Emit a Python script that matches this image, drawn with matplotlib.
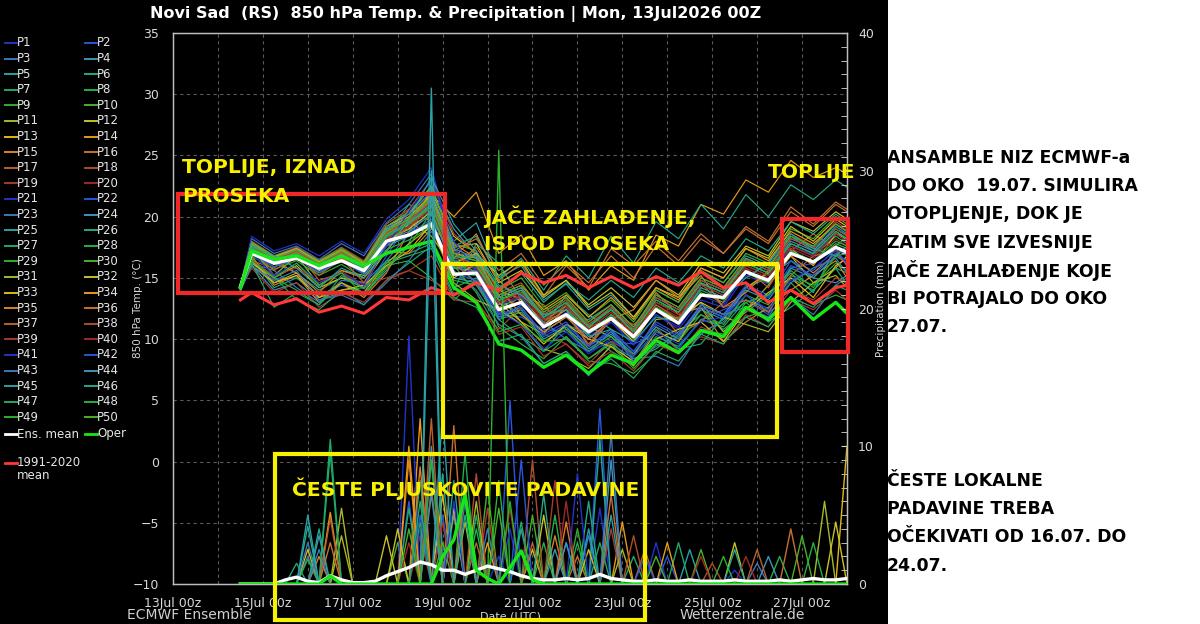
import numpy as np
import pandas as pd
import matplotlib
matplotlib.use("Agg")
import matplotlib.pyplot as plt
import matplotlib.dates as mdates
from matplotlib.lines import Line2D
from matplotlib.patches import Rectangle
from matplotlib.ticker import MultipleLocator, FixedLocator

# ---------------- data ----------------
title = "Novi Sad  (RS)  850 hPa Temp. & Precipitation | Mon, 13Jul2026 00Z"
member_names = [f"P{i}" for i in range(1, 51)]

# temperature times: 14Jul 12z, then 06z/18z steps, ending 28Jul 00z
temp_times = (["2026-07-14 12:00"]
              + [t.strftime("%Y-%m-%d %H:%M") for t in pd.date_range("2026-07-14 18:00", periods=27, freq="12h")]
              + ["2026-07-28 00:00"])
precip_times = [t.strftime("%Y-%m-%d %H:%M") for t in pd.date_range("2026-07-14 12:00", "2026-07-28 00:00", freq="6h")]

ens_mean_temp = [14.3, 17.0, 16.2, 16.6, 15.8, 16.4, 15.6, 18.0, 18.5, 19.4, 15.3, 15.4, 12.4, 13.0, 11.0,
                 12.0, 10.6, 11.7, 10.2, 12.4, 11.3, 13.6, 13.4, 15.5, 14.8, 17.0, 16.3, 17.5, 17.1]
oper_temp = [14.2, 17.2, 16.5, 16.8, 16.0, 16.8, 16.0, 17.0, 17.5, 18.0, 14.2, 13.0, 9.6, 9.1, 7.7,
             8.7, 7.2, 8.7, 8.0, 9.9, 8.9, 10.7, 10.2, 12.6, 11.6, 13.4, 11.6, 13.0, 12.1]
clim_temp = [13.2, 13.8, 12.8, 13.3, 12.2, 12.7, 12.1, 13.4, 13.2, 14.2, 13.6, 14.6, 14.0, 15.4, 14.6,
             15.2, 14.2, 15.1, 14.2, 15.1, 14.4, 15.5, 14.2, 14.6, 13.0, 14.0, 12.9, 14.2, 14.4]

member_temp = [
    [14.3, 17.8, 16.6, 17.4, 16.0, 17.2, 15.9, 19.0, 20.5, 22.0, 16.5, 15.8, 12.5, 13.5, 11.0, 12.2, 10.0, 11.4, 9.5, 12.0, 10.8, 13.2, 12.6, 15.2, 14.5, 17.8, 16.9, 18.6, 18.0],
    [14.1, 16.2, 14.8, 15.0, 13.6, 14.4, 13.8, 16.8, 19.5, 21.8, 17.4, 15.6, 12.0, 11.8, 10.8, 10.6, 9.0, 9.8, 9.6, 10.4, 9.2, 11.6, 12.4, 13.2, 12.0, 15.8, 16.2, 17.6, 16.8],
    [14.4, 18.2, 17.0, 17.6, 16.5, 17.8, 16.8, 19.5, 21.0, 23.5, 17.0, 16.8, 13.4, 14.2, 11.8, 12.6, 10.4, 11.6, 9.8, 12.5, 11.6, 14.5, 13.8, 16.5, 15.6, 18.2, 17.5, 19.4, 18.8],
    [13.9, 16.0, 14.0, 14.6, 13.2, 13.8, 13.6, 15.6, 17.8, 22.6, 19.0, 16.8, 13.2, 12.0, 10.6, 11.8, 11.6, 12.8, 10.4, 9.8, 9.0, 10.4, 11.6, 14.2, 15.0, 16.4, 15.0, 14.6, 15.2],
    [14.3, 17.4, 16.2, 16.9, 15.6, 16.5, 15.4, 18.2, 19.0, 21.0, 18.0, 19.5, 15.0, 16.0, 13.2, 14.5, 12.4, 13.6, 11.8, 14.0, 13.0, 15.5, 14.6, 16.8, 16.0, 18.4, 17.2, 19.0, 18.5],
    [14.2, 17.8, 16.2, 15.4, 14.0, 15.0, 14.2, 18.4, 21.0, 20.2, 14.0, 17.8, 16.2, 13.2, 11.0, 13.6, 12.0, 10.8, 8.4, 9.2, 10.6, 12.0, 10.8, 12.2, 13.6, 15.4, 13.8, 17.6, 18.4],
    [14.0, 16.6, 14.2, 15.0, 13.6, 14.0, 12.8, 14.8, 16.2, 17.6, 14.2, 15.0, 12.6, 11.2, 9.0, 10.2, 8.4, 9.8, 8.0, 10.2, 9.4, 11.6, 11.0, 13.2, 12.5, 15.0, 14.0, 15.8, 15.4],
    [14.4, 17.6, 16.4, 17.0, 15.8, 16.8, 15.6, 18.6, 19.6, 21.5, 16.8, 16.4, 13.2, 14.0, 12.0, 13.2, 11.2, 12.4, 10.6, 13.0, 12.2, 14.4, 13.6, 16.0, 15.2, 17.6, 16.8, 18.4, 17.8],
    [14.2, 16.6, 15.0, 14.0, 12.8, 14.6, 13.6, 16.0, 16.4, 15.0, 13.2, 14.8, 11.0, 9.6, 8.4, 10.2, 8.2, 8.0, 7.2, 8.8, 10.4, 12.6, 10.6, 11.8, 12.4, 14.6, 12.8, 13.6, 13.2],
    [14.3, 17.3, 16.3, 16.9, 15.9, 16.9, 15.8, 18.0, 18.6, 19.6, 15.4, 15.2, 12.6, 13.4, 11.2, 12.4, 10.6, 11.8, 10.0, 12.6, 11.4, 13.8, 13.0, 15.4, 14.6, 17.2, 16.2, 17.8, 17.4],
    [14.1, 17.4, 15.2, 16.8, 14.4, 15.6, 15.2, 17.6, 19.6, 18.4, 15.8, 16.0, 13.6, 11.4, 10.4, 12.8, 11.0, 10.2, 8.6, 11.6, 11.8, 13.0, 10.6, 12.4, 14.4, 16.8, 14.6, 15.8, 16.8],
    [14.3, 17.9, 16.7, 17.4, 16.3, 17.2, 16.2, 19.2, 20.2, 22.5, 17.5, 17.8, 14.6, 15.6, 13.4, 14.8, 12.8, 14.2, 12.6, 14.8, 13.6, 16.2, 15.4, 17.6, 16.8, 19.6, 18.8, 20.4, 19.8],
    [14.2, 16.2, 15.0, 16.0, 14.2, 15.0, 14.6, 17.2, 19.4, 22.0, 18.4, 17.0, 14.0, 13.2, 11.4, 12.8, 11.0, 11.6, 9.8, 12.4, 11.6, 13.0, 12.0, 14.2, 15.4, 17.4, 16.0, 18.6, 18.2],
    [14.4, 17.5, 16.5, 17.2, 16.1, 17.0, 16.0, 18.8, 19.8, 21.8, 20.0, 22.0, 17.0, 18.5, 15.2, 16.4, 14.0, 16.0, 14.8, 18.5, 17.6, 21.0, 20.2, 23.0, 22.0, 24.6, 23.2, 24.0, 23.5],
    [14.0, 16.8, 14.4, 15.2, 13.0, 14.6, 13.4, 15.4, 18.8, 21.4, 16.6, 18.6, 14.8, 13.0, 11.2, 12.4, 9.4, 11.6, 10.8, 13.8, 12.0, 12.6, 9.8, 11.4, 12.6, 14.0, 15.2, 16.4, 15.0],
    [14.3, 17.6, 16.4, 17.0, 15.8, 16.9, 15.8, 18.4, 19.4, 21.0, 16.0, 17.5, 14.8, 16.2, 13.5, 16.0, 14.2, 17.4, 16.0, 18.0, 16.4, 18.6, 17.0, 19.2, 18.0, 20.8, 19.4, 21.2, 20.6],
    [14.2, 16.4, 15.8, 17.2, 14.8, 15.4, 14.2, 17.8, 20.6, 19.6, 17.2, 15.2, 12.0, 13.6, 12.8, 10.8, 9.4, 12.0, 11.2, 12.6, 10.4, 11.4, 13.0, 15.8, 14.2, 17.2, 18.6, 17.4, 16.0],
    [14.4, 18.0, 16.8, 17.5, 16.4, 17.5, 16.4, 19.4, 20.6, 23.0, 18.6, 17.0, 13.8, 14.6, 12.2, 13.4, 11.4, 12.8, 11.0, 13.6, 12.6, 15.0, 14.2, 16.6, 15.8, 18.6, 17.6, 19.6, 19.0],
    [14.1, 15.8, 13.8, 14.6, 12.6, 13.8, 13.0, 14.8, 15.6, 16.8, 13.2, 13.0, 10.8, 12.6, 10.4, 9.6, 8.0, 9.8, 8.8, 11.0, 9.0, 10.2, 9.6, 12.0, 11.0, 13.2, 12.4, 14.0, 13.2],
    [14.3, 17.2, 16.1, 16.8, 15.7, 16.7, 15.6, 18.2, 19.2, 20.6, 15.8, 15.4, 12.8, 13.6, 11.4, 12.6, 10.8, 12.2, 10.4, 12.8, 11.8, 14.2, 13.4, 15.8, 15.0, 17.4, 16.6, 18.2, 17.6],
    [14.2, 18.4, 17.2, 17.8, 16.8, 18.0, 17.0, 19.8, 21.4, 24.0, 17.2, 16.0, 12.8, 13.4, 11.0, 12.0, 10.2, 11.4, 9.6, 12.0, 11.0, 13.6, 12.8, 15.6, 14.8, 17.6, 16.8, 18.8, 18.2],
    [14.3, 17.6, 16.5, 17.2, 16.1, 17.1, 16.0, 18.6, 19.5, 21.2, 16.4, 15.2, 12.0, 12.6, 10.4, 11.4, 9.4, 10.8, 9.0, 11.4, 10.4, 12.8, 12.0, 14.4, 13.6, 16.4, 15.6, 17.4, 16.8],
    [14.1, 16.2, 15.6, 14.2, 13.0, 14.8, 14.6, 16.4, 18.6, 20.6, 15.6, 14.0, 11.2, 10.2, 8.0, 9.0, 7.0, 9.6, 8.4, 8.6, 7.8, 10.6, 11.4, 13.6, 12.2, 13.4, 12.0, 14.4, 15.0],
    [14.4, 17.3, 16.2, 16.8, 15.7, 16.6, 15.6, 18.0, 18.8, 20.2, 15.8, 15.6, 13.0, 13.8, 11.8, 13.0, 11.0, 12.6, 10.8, 13.4, 12.4, 14.8, 14.0, 16.2, 15.4, 17.8, 17.0, 18.8, 18.2],
    [14.2, 17.0, 15.9, 16.6, 15.4, 16.4, 15.3, 17.6, 18.4, 19.4, 15.0, 14.6, 11.8, 12.4, 10.0, 11.0, 9.2, 10.4, 8.8, 11.0, 10.0, 12.4, 11.6, 14.0, 13.2, 15.8, 15.0, 16.8, 16.2],
    [14.3, 17.7, 16.6, 17.3, 16.2, 17.2, 16.1, 18.9, 19.9, 21.6, 17.6, 18.4, 15.0, 16.6, 14.0, 16.8, 15.0, 18.4, 16.2, 19.6, 18.2, 21.0, 19.0, 21.8, 20.0, 22.6, 21.4, 23.0, 22.4],
    [14.0, 16.3, 15.1, 13.2, 12.4, 14.0, 14.2, 16.4, 17.0, 17.8, 13.6, 14.8, 11.6, 10.2, 9.0, 11.2, 10.4, 9.0, 8.0, 10.8, 9.2, 9.6, 11.8, 13.0, 11.4, 12.6, 14.0, 15.8, 14.4],
    [14.3, 17.4, 16.3, 17.0, 15.9, 16.8, 15.7, 18.3, 19.2, 20.8, 16.0, 15.8, 13.2, 13.8, 11.6, 12.8, 10.6, 12.0, 10.2, 12.6, 11.6, 14.0, 13.2, 15.6, 14.8, 17.2, 16.4, 18.0, 17.6],
    [14.2, 16.8, 15.7, 16.4, 15.2, 16.1, 15.0, 17.3, 18.1, 19.2, 14.8, 14.4, 11.6, 12.2, 9.8, 10.8, 9.0, 10.2, 8.6, 10.6, 9.8, 12.0, 11.2, 13.6, 12.8, 15.2, 14.4, 16.2, 15.6],
    [14.4, 17.9, 16.8, 17.4, 16.4, 17.4, 16.3, 19.2, 20.4, 22.4, 17.8, 17.2, 14.0, 15.0, 12.6, 13.8, 11.8, 13.2, 11.4, 14.0, 13.0, 15.6, 14.6, 17.0, 16.2, 19.0, 18.2, 20.0, 19.4],
    [14.1, 16.0, 14.6, 15.4, 13.4, 14.6, 13.8, 16.2, 17.8, 19.2, 14.6, 13.2, 12.4, 11.2, 9.2, 8.6, 7.6, 9.4, 7.8, 10.6, 9.8, 12.6, 11.8, 11.2, 10.6, 13.0, 14.6, 15.2, 14.2],
    [14.3, 17.2, 16.1, 16.8, 15.6, 16.6, 15.5, 18.0, 19.0, 20.4, 16.2, 17.0, 15.2, 16.4, 13.6, 14.8, 12.6, 13.8, 11.8, 14.2, 13.4, 15.8, 15.0, 17.4, 16.6, 19.2, 18.0, 19.8, 19.2],
    [14.2, 16.4, 14.6, 15.2, 13.4, 14.0, 14.4, 16.0, 17.2, 19.4, 15.0, 16.2, 13.0, 11.4, 9.6, 11.2, 10.0, 9.4, 8.2, 10.0, 10.8, 11.4, 9.8, 12.4, 13.8, 15.0, 13.4, 16.0, 16.6],
    [14.4, 17.8, 16.7, 17.4, 16.3, 17.3, 16.2, 19.0, 20.0, 21.8, 17.0, 16.6, 13.6, 14.4, 12.4, 13.6, 11.8, 13.4, 11.6, 14.2, 13.2, 15.8, 15.0, 17.4, 16.4, 18.8, 17.8, 19.4, 18.8],
    [14.1, 17.0, 16.4, 15.4, 13.8, 15.6, 15.0, 17.2, 17.0, 19.0, 17.8, 16.6, 14.2, 12.0, 10.6, 11.8, 10.0, 11.6, 12.4, 14.8, 13.4, 15.2, 12.6, 13.8, 15.6, 16.8, 15.4, 17.0, 16.2],
    [14.3, 17.5, 16.4, 17.1, 16.0, 17.0, 15.9, 18.6, 19.6, 21.4, 17.2, 18.2, 15.6, 17.0, 14.4, 16.2, 14.6, 16.8, 15.0, 17.6, 16.0, 18.2, 17.0, 19.0, 17.8, 20.4, 19.2, 21.0, 20.4],
    [14.2, 17.2, 15.6, 16.8, 15.2, 16.6, 14.6, 17.6, 19.2, 21.0, 16.2, 14.6, 12.8, 14.0, 11.6, 12.0, 9.6, 11.8, 10.4, 12.8, 11.6, 14.6, 12.6, 13.2, 12.2, 15.2, 16.8, 17.2, 16.0],
    [14.4, 17.6, 16.5, 17.2, 16.1, 17.1, 16.0, 18.7, 19.7, 21.2, 16.6, 16.2, 13.4, 14.2, 12.0, 13.2, 11.2, 12.6, 10.8, 13.4, 12.4, 14.8, 14.0, 16.4, 15.6, 18.2, 17.4, 19.0, 18.4],
    [14.0, 16.4, 15.2, 15.8, 14.6, 15.5, 14.4, 15.0, 15.6, 14.8, 13.8, 13.2, 10.4, 11.0, 8.6, 9.6, 7.8, 9.0, 7.4, 9.6, 8.8, 11.0, 10.2, 12.4, 11.6, 14.0, 13.2, 15.0, 14.6],
    [14.3, 17.3, 16.2, 16.9, 15.8, 16.8, 15.7, 18.2, 19.2, 20.6, 16.2, 15.8, 13.0, 13.8, 11.6, 12.8, 10.8, 12.2, 10.4, 13.0, 12.0, 14.4, 13.6, 16.0, 15.2, 17.6, 16.8, 18.6, 18.0],
    [14.2, 17.0, 15.2, 16.2, 14.6, 15.4, 14.4, 17.6, 20.4, 23.0, 18.0, 15.6, 12.2, 11.2, 9.2, 10.6, 8.8, 10.0, 8.6, 10.6, 9.6, 11.4, 11.8, 13.6, 12.4, 14.8, 15.8, 17.2, 16.2],
    [14.3, 17.0, 15.9, 16.6, 15.5, 16.4, 15.3, 17.8, 18.6, 19.8, 15.4, 14.8, 12.0, 12.6, 10.2, 11.2, 9.4, 10.6, 9.0, 11.2, 10.2, 12.6, 11.8, 14.2, 13.4, 16.0, 15.2, 17.0, 16.4],
    [14.1, 16.0, 14.8, 15.6, 13.2, 13.6, 12.8, 14.6, 16.4, 18.8, 16.4, 14.6, 11.6, 12.8, 11.4, 10.0, 9.0, 10.6, 8.2, 9.4, 10.2, 12.8, 12.0, 12.6, 11.8, 14.6, 15.8, 16.6, 15.4],
    [14.4, 17.8, 16.6, 17.3, 16.2, 17.2, 16.1, 19.0, 20.2, 22.0, 17.4, 16.6, 13.4, 14.2, 11.8, 13.0, 11.0, 12.4, 10.6, 13.2, 12.2, 14.6, 13.8, 16.2, 15.4, 18.0, 17.2, 19.2, 18.6],
    [14.2, 17.6, 16.8, 15.8, 14.2, 15.8, 15.0, 17.2, 19.8, 23.2, 19.4, 17.2, 14.4, 13.6, 12.0, 12.4, 10.2, 10.8, 9.8, 11.8, 11.4, 14.2, 13.4, 15.0, 16.2, 18.6, 17.4, 16.8, 17.6],
    [14.3, 17.4, 16.3, 17.0, 15.9, 16.8, 15.7, 18.4, 19.4, 21.0, 16.6, 16.8, 14.2, 15.4, 13.0, 14.6, 13.2, 14.8, 13.4, 15.8, 14.6, 16.8, 15.8, 18.2, 17.2, 19.6, 18.6, 20.2, 19.6],
    [14.0, 16.2, 12.6, 13.8, 12.8, 15.2, 14.1, 16.2, 16.8, 17.4, 13.4, 12.6, 9.8, 10.4, 8.0, 9.0, 7.2, 8.4, 6.8, 9.0, 8.2, 10.4, 9.6, 11.8, 11.0, 13.4, 12.6, 14.4, 14.0],
    [14.3, 17.5, 16.4, 17.0, 15.9, 16.9, 15.8, 18.5, 19.5, 21.0, 16.4, 16.0, 13.2, 14.0, 11.8, 13.0, 11.0, 12.4, 10.6, 13.2, 12.2, 14.6, 13.8, 16.2, 15.4, 17.8, 17.0, 18.8, 18.2],
    [14.2, 16.4, 15.0, 16.2, 14.4, 15.4, 13.6, 15.8, 17.6, 20.4, 16.0, 13.8, 10.6, 11.2, 9.8, 10.0, 8.4, 9.6, 7.6, 9.6, 9.0, 10.8, 10.4, 13.0, 13.6, 15.6, 14.2, 16.8, 17.0],
    [14.4, 17.7, 16.6, 17.3, 16.2, 17.2, 16.1, 18.8, 19.8, 21.6, 17.0, 16.4, 13.6, 14.4, 12.2, 13.4, 11.4, 12.8, 11.0, 13.6, 12.6, 15.0, 14.2, 16.6, 15.8, 18.4, 17.6, 19.4, 18.8],
]

# precipitation (mm / 6 h): ensemble mean, operational run and member spikes {step index: mm}
ens_mean_precip = [0, 0, 0, 0, 0.3, 0.5, 0.2, 0.1, 0.6, 0.3, 0.1, 0.1, 0.2, 0.6, 0.9, 1.2, 1.6, 1.4, 1.0,
                   1.0, 0.7, 1.0, 1.3, 1.1, 0.9, 0.6, 0.4, 0.3, 0.3, 0.4, 0.3, 0.4, 0.7, 0.4, 0.3, 0.2,
                   0.2, 0.3, 0.2, 0.2, 0.3, 0.2, 0.2, 0.2, 0.3, 0.2, 0.2, 0.2, 0.3, 0.2, 0.3, 0.4, 0.3,
                   0.3, 0.4]
oper_precip_spikes = {8: 0.6, 18: 2.0, 19: 3.2, 20: 6.5, 21: 1.0, 22: 0.4, 24: 1.2, 25: 2.4, 26: 0.3}
member_precip_spikes = [
    {16: 4.0, 23: 2.0, 32: 5.5, 44: 1.0}, {15: 6.0, 24: 13.3, 38: 2.0}, {6: 2.0, 17: 9.0, 29: 3.0, 46: 1.5},
    {7: 3.5, 19: 5.0, 33: 9.0}, {17: 30.0, 25: 4.0, 40: 2.5}, {6: 4.2, 18: 8.0, 31: 6.0},
    {8: 10.5, 21: 5.0, 35: 2.0}, {16: 7.5, 27: 3.0, 48: 2.0}, {23: 31.5, 30: 4.0},
    {14: 3.0, 22: 7.0, 41: 2.5}, {9: 5.5, 20: 4.5, 52: 6.0}, {13: 3.5, 26: 2.5, 44: 3.0},
    {6: 2.5, 18: 6.5, 54: 10.0}, {8: 5.2, 16: 12.0, 34: 4.5}, {7: 2.0, 15: 9.0, 28: 3.5},
    {19: 11.5, 30: 2.0, 49: 4.0}, {8: 4.8, 21: 3.0, 36: 2.5}, {17: 7.0, 26: 9.0, 42: 1.5},
    {22: 5.5, 33: 4.0}, {16: 3.5, 29: 6.0, 45: 2.0}, {15: 18.0, 24: 4.0, 37: 3.0},
    {18: 5.0, 32: 12.7}, {6: 3.0, 20: 6.0, 31: 3.5}, {17: 10.0, 28: 2.5, 47: 2.0},
    {17: 36.0, 33: 5.0}, {7: 4.0, 19: 7.5, 32: 10.5}, {5: 1.5, 15: 5.5, 25: 4.5, 39: 3.0},
    {6: 1.8, 20: 9.5, 30: 3.0}, {16: 4.5, 23: 7.5, 43: 2.0}, {18: 3.0, 26: 5.0, 50: 3.5},
    {9: 3.5, 21: 6.0, 34: 2.5}, {14: 4.0, 27: 5.0, 53: 4.5}, {19: 5.5, 31: 2.5},
    {15: 10.0, 22: 3.0, 38: 3.0}, {16: 8.5, 29: 4.5}, {8: 3.0, 20: 7.0, 33: 6.5},
    {17: 12.0, 26: 3.0, 46: 2.5}, {21: 8.0, 35: 3.5}, {18: 4.5, 28: 7.5},
    {15: 3.0, 24: 5.5, 41: 2.0}, {19: 6.0, 30: 8.0}, {16: 5.0, 25: 9.0, 36: 2.0},
    {7: 2.5, 22: 4.0, 33: 11.0}, {17: 6.5, 29: 3.0}, {6: 5.0, 18: 12.5, 31: 4.0},
    {20: 5.0, 27: 6.5, 44: 2.5}, {8: 9.5, 16: 6.0, 32: 3.0}, {21: 4.0, 28: 5.0, 51: 3.0},
    {17: 9.0, 24: 6.0}, {15: 4.0, 23: 5.5, 37: 2.0},
]

x_tick_days = ["2026-07-13", "2026-07-15", "2026-07-17", "2026-07-19", "2026-07-21",
               "2026-07-23", "2026-07-25", "2026-07-27"]
temp_ticks = [-10, -5, 0, 5, 10, 15, 20, 25, 30, 35]
precip_ticks = [0, 10, 20, 30, 40]

member_colors = ['#2233cc', '#2a55dd', '#3a78b8', '#3f92b8', '#2aa0a8', '#22a888', '#20a868', '#22b048',
                 '#2cb030', '#48b028', '#a8b828', '#c8c028', '#e0b818', '#e89a18', '#d88228', '#c87030',
                 '#b86030', '#b04c2c', '#a83a2c', '#a02828']
MEAN_C, OPER_C, CLIM_C = 'white', '#19e619', '#ff3838'

# ---------------- figure ----------------
W, H = 1200, 624
fig = plt.figure(figsize=(W / 100, H / 100), dpi=100, facecolor='white')


def fx(x):
    return x / W


def fy(y):
    return 1 - y / H


fig.add_artist(Rectangle((0, 0), fx(888), 1, transform=fig.transFigure,
                         facecolor='black', edgecolor='none', zorder=-5))

ax = fig.add_axes([fx(173), fy(584), fx(847) - fx(173), fy(33) - fy(584)])
ax.set_facecolor('black')

tt = pd.to_datetime(temp_times, format="%Y-%m-%d %H:%M")
pt = pd.to_datetime(precip_times, format="%Y-%m-%d %H:%M")

for i, series in enumerate(member_temp):
    ax.plot(tt, series, color=member_colors[i % 20], lw=0.85, zorder=2)
ax.plot(tt, clim_temp, color=CLIM_C, lw=2.2, zorder=3)
ax.plot(tt, ens_mean_temp, color=MEAN_C, lw=2.4, zorder=4)
ax.plot(tt, oper_temp, color=OPER_C, lw=2.4, zorder=4)

ax.set_xlim(pd.Timestamp("2026-07-13"), pd.Timestamp("2026-07-28"))
ax.set_ylim(-10, 35)
ax.xaxis.set_major_locator(FixedLocator(mdates.date2num(pd.to_datetime(x_tick_days))))
ax.xaxis.set_minor_locator(mdates.DayLocator())
ax.xaxis.set_major_formatter(mdates.DateFormatter('%d%b %Hz'))
ax.set_yticks(temp_ticks)
ax.grid(which='both', axis='x', color='#5a5a5a', linestyle=(0, (3, 3)), lw=0.8)
ax.grid(which='major', axis='y', color='#5a5a5a', linestyle=(0, (3, 3)), lw=0.8)
ax.tick_params(axis='both', which='both', length=0, colors='#d8d8d8', labelsize=9)
ax.tick_params(axis='y', pad=10)
ax.tick_params(axis='x', pad=9)
for s in ax.spines.values():
    s.set_color('#bdbdbd')
    s.set_linewidth(1.0)
ax.set_ylabel('850 hPa Temp. (°C)', color='#d8d8d8', fontsize=7.5)
ax.yaxis.set_label_coords(-0.045, 0.5)
ax.set_xlabel('Date (UTC)', color='#d8d8d8', fontsize=8)
ax.xaxis.set_label_coords(0.5, -0.05)

ax2 = ax.twinx()
ax2.set_ylim(0, 40)
for i, spikes in enumerate(member_precip_spikes):
    vals = np.zeros(len(pt))
    for k, v in spikes.items():
        vals[k] = v
    ax2.plot(pt, vals, color=member_colors[i % 20], lw=1.0, zorder=2)
oper_p = np.zeros(len(pt))
for k, v in oper_precip_spikes.items():
    oper_p[k] = v
ax2.plot(pt, ens_mean_precip, color=MEAN_C, lw=2.4, zorder=4)
ax2.plot(pt, oper_p, color=OPER_C, lw=2.4, zorder=4)
ax2.set_yticks(precip_ticks)
ax2.yaxis.set_minor_locator(MultipleLocator(1))
ax2.tick_params(axis='y', which='both', direction='in', length=4, colors='#d8d8d8',
                labelsize=9, pad=8)
for s in ax2.spines.values():
    s.set_color('#bdbdbd')
ax2.set_ylabel('Precipitation (mm)', color='#d8d8d8', fontsize=7.5)
ax2.yaxis.set_label_coords(1.043, 0.5)

# title and footer
fig.text(fx(456), fy(14), title, color='white', fontsize=11.5, fontweight='bold',
         ha='center', va='center')
fig.text(fx(127), fy(622), 'ECMWF Ensemble', color='#cfcfcf', fontsize=10, ha='left', va='bottom')
fig.text(fx(680), fy(622), 'Wetterzentrale.de', color='#cfcfcf', fontsize=10, ha='left', va='bottom')

# legend (two columns, row-major)
for i, name in enumerate(member_names):
    row, col = divmod(i, 2)
    y = 43 + 15.6 * row
    x0 = 5 if col == 0 else 85
    fig.add_artist(Line2D([fx(x0), fx(x0 + 12)], [fy(y), fy(y)], transform=fig.transFigure,
                          color=member_colors[i % 20], lw=1.4))
    fig.text(fx(x0 + 12), fy(y), name, color='#e6e6e6', fontsize=8.5, ha='left', va='center')
extra = [(5, 434, MEAN_C, 'Ens. mean'), (85, 434, OPER_C, 'Oper'), (5, 463, CLIM_C, '1991-2020\nmean')]
for x0, y, c, lab in extra:
    fig.add_artist(Line2D([fx(x0), fx(x0 + 12)], [fy(y), fy(y)], transform=fig.transFigure,
                          color=c, lw=2))
    if '\n' in lab:
        fig.text(fx(x0 + 12), fy(y - 7), lab, color='#e6e6e6', fontsize=8.5, ha='left',
                 va='top', linespacing=1.0)
    else:
        fig.text(fx(x0 + 12), fy(y), lab, color='#e6e6e6', fontsize=8.5, ha='left', va='center')

# annotation boxes
RED, YEL = '#f02828', '#f7f000'
boxes = [(178, 194, 445, 293, RED), (782, 219, 848, 352, RED),
         (443, 264, 777, 437, YEL), (275, 454, 645, 620, YEL)]
for x0, y0, x1, y1, c in boxes:
    fig.add_artist(Rectangle((fx(x0), fy(y1)), fx(x1) - fx(x0), fy(y0) - fy(y1),
                             transform=fig.transFigure, fill=False, edgecolor=c, lw=3.0, zorder=10))

ytxt = dict(color=YEL, fontsize=14.6, fontweight='bold', ha='left', va='center', zorder=11)
fig.text(fx(182), fy(168), 'TOPLIJE, IZNAD', **ytxt)
fig.text(fx(182), fy(197), 'PROSEKA', **ytxt)
fig.text(fx(484), fy(217), 'JAČE ZAHLAĐENJE,', **ytxt)
fig.text(fx(484), fy(245), 'ISPOD PROSEKA', **ytxt)
fig.text(fx(768), fy(173), 'TOPLIJE', **ytxt)
fig.text(fx(292), fy(489), 'ČESTE PLJUSKOVITE PADAVINE', **ytxt)

btxt = dict(color='black', fontsize=12.4, fontweight='bold', ha='left', va='center')
right_lines_1 = ['ANSAMBLE NIZ ECMWF-a', 'DO OKO  19.07. SIMULIRA', 'OTOPLJENJE, DOK JE',
                 'ZATIM SVE IZVESNIJE', 'JAČE ZAHLAĐENJE KOJE', 'BI POTRAJALO DO OKO', '27.07.']
for k, line in enumerate(right_lines_1):
    fig.text(fx(887), fy(158 + 28.2 * k), line, **btxt)
right_lines_2 = ['ČESTE LOKALNE', 'PADAVINE TREBA', 'OČEKIVATI OD 16.07. DO', '24.07.']
for k, line in enumerate(right_lines_2):
    fig.text(fx(887), fy(481 + 28.2 * k), line, **btxt)

fig.savefig('out.png', dpi=100, facecolor=fig.get_facecolor())
